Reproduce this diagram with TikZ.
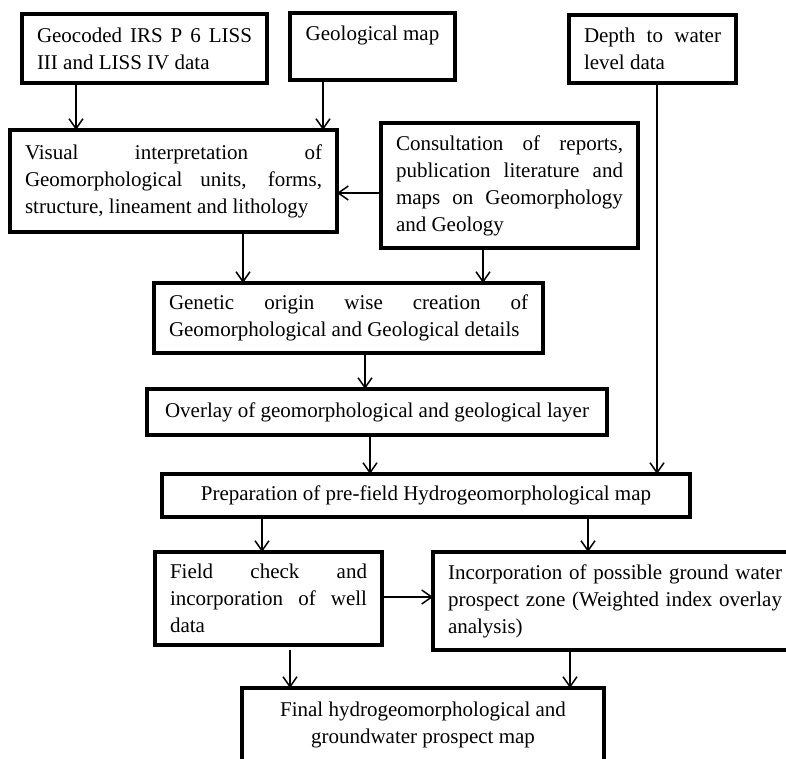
\documentclass[tikz,border=0pt]{standalone}
\usepackage{fontspec}
\setmainfont{Liberation Serif}
\usetikzlibrary{arrows.meta}
\tikzset{
  blk/.style={draw, line width=3.2pt, anchor=north west, outer sep=0pt,
    inner xsep=15pt, inner ysep=3pt, align=justify,
    font=\fontsize{21}{27}\selectfont},
  arr/.style={line width=1.5pt, -{Straight Barb[length=10pt,width=14pt,line width=1.5pt]}}
}
\begin{document}
\begin{tikzpicture}[x=1pt,y=-1pt]
\useasboundingbox (0,0) rectangle (786,759);
\node[blk, text width=215pt, minimum height=69pt] (geo) at (22,14) {Geocoded IRS P 6 LISS\linebreak III and LISS IV data};
\node[blk, inner xsep=14pt, minimum width=165pt, minimum height=67pt, align=left] (gmap) at (290,13) {Geological map\\\mbox{}};
\node[blk, text width=137pt, minimum height=68pt] (depth) at (569,15) {Depth to water\linebreak level data};
\node[blk, text width=297pt, minimum height=102pt] (visual) at (10,130) {Visual interpretation of\linebreak Geomorphological units, forms,\linebreak structure, lineament and lithology};
\node[blk, text width=227pt, minimum height=125pt] (consult) at (381,123) {Consultation of reports,\linebreak publication literature and\linebreak maps on Geomorphology\linebreak and Geology};
\node[blk, text width=359pt, minimum height=70pt] (genetic) at (154,283) {Genetic origin wise creation of\linebreak Geomorphological and Geological details};
\node[blk, minimum width=460pt, minimum height=46pt, align=center] (overlay) at (147,389) {Overlay of geomorphological and geological layer};
\node[blk, minimum width=528pt, minimum height=43pt, align=center] (prep) at (162,474) {Preparation of pre-field Hydrogeomorphological map};
\node[blk, text width=197pt, minimum height=93pt] (field) at (155,552) {Field check and\linebreak incorporation of well\linebreak data};
\node[blk, text width=334pt, minimum height=98pt] (incorp) at (433,552) {Incorporation of possible ground water\linebreak prospect zone (Weighted index overlay\linebreak analysis)};
\node[blk, minimum width=362pt, minimum height=74pt, align=center] (final) at (242,688) {Final hydrogeomorphological and\\groundwater prospect map};
\draw[arr] ([xshift=54pt]geo.south west) coordinate (g1) -- (g1 |- visual.north);
\draw[arr] ([xshift=33pt]gmap.south west) coordinate (g2) -- (g2 |- visual.north);
\draw[arr] ([yshift=-70pt]consult.north west) coordinate (c1) -- (c1 -| visual.east);
\draw[arr] ([xshift=233pt]visual.south west) coordinate (v1) -- (v1 |- genetic.north);
\draw[arr] ([xshift=102pt]consult.south west) coordinate (c2) -- (c2 |- genetic.north);
\draw[arr] ([xshift=211pt]genetic.south west) coordinate (e1) -- (e1 |- overlay.north);
\draw[arr] ([xshift=223pt]overlay.south west) coordinate (o1) -- (o1 |- prep.north);
\draw[arr] ([xshift=88pt]depth.south west) coordinate (d1) -- (d1 |- prep.north);
\draw[arr] ([xshift=100pt]prep.south west) coordinate (p1) -- (p1 |- field.north);
\draw[arr] ([xshift=426pt]prep.south west) coordinate (p2) -- (p2 |- incorp.north);
\draw[arr] ([yshift=-45pt]field.north east) coordinate (f1) -- (f1 -| incorp.west);
\draw[arr, shorten <=5pt] ([xshift=135pt]field.south west) coordinate (f2) -- (f2 |- final.north);
\draw[arr] ([xshift=137pt]incorp.south west) coordinate (i1) -- (i1 |- final.north);
\end{tikzpicture}
\end{document}
